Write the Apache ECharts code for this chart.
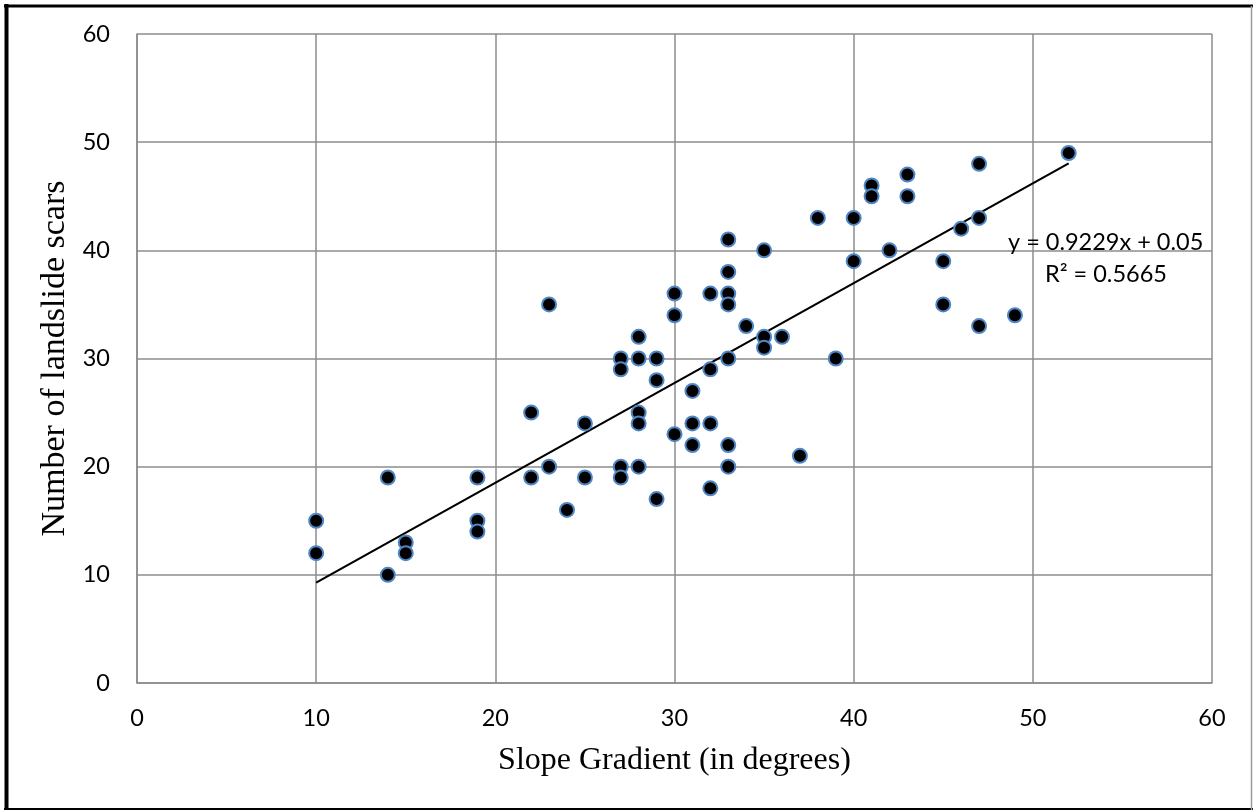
<!DOCTYPE html>
<html>
<head>
<meta charset="utf-8">
<script src="https://cdn.jsdelivr.net/npm/echarts@6/dist/echarts.min.js"></script>
<style>
html,body{margin:0;padding:0;background:#fff;}
#chart{width:1253px;height:810px;}
</style>
</head>
<body>
<div id="chart"></div>
<script>
// Slope gradient (degrees) vs number of landslide scars
const slopeDeg = [10,10,14,14,15,15,19,19,19,22,22,23,23,24,25,25,27,27,27,27,28,28,28,28,28,29,29,29,30,30,30,31,31,31,32,32,32,32,33,33,33,33,33,33,33,34,35,35,35,36,37,38,39,40,40,41,41,42,43,43,45,45,46,47,47,47,49,52];
const scars    = [15,12,19,10,13,12,19,15,14,25,19,35,20,16,24,19,30,29,20,19,32,30,25,24,20,30,28,17,36,34,23,27,24,22,36,29,24,18,41,38,36,35,30,22,20,33,40,32,31,32,21,43,30,43,39,46,45,40,47,45,39,35,42,48,43,33,34,49];
const xTicks = [0,10,20,30,40,50,60];
const yTicks = [0,10,20,30,40,50,60];
const trendSlope = 0.9229;
const trendIntercept = 0.05;
const trendLabel = ['y = 0.9229x + 0.05', 'R² = 0.5665'];
const xTitle = 'Slope Gradient (in degrees)';
const yTitle = 'Number of landslide scars';

const points = slopeDeg.map((x, i) => [x, scars[i]]);
const xMinData = Math.min(...slopeDeg), xMaxData = Math.max(...slopeDeg);
const trend = [xMinData, xMaxData].map(x => [x, trendSlope * x + trendIntercept]);

const chart = echarts.init(document.getElementById('chart'), null, {renderer: 'canvas'});
const gridColor = '#8c8c8c';
const tickFont = {fontFamily: 'Lato', fontSize: 23.5, color: '#000'};
chart.setOption({
  backgroundColor: '#fff',
  animation: false,
  grid: {left: 137, right: 41, top: 34, bottom: 127},
  xAxis: {
    type: 'value', min: xTicks[0], max: xTicks[xTicks.length - 1], interval: xTicks[1] - xTicks[0],
    name: xTitle, nameLocation: 'middle', nameGap: 62,
    nameTextStyle: {fontFamily: 'Liberation Serif', fontSize: 32, color: '#000'},
    axisLine: {show: true, lineStyle: {color: gridColor, width: 1.5}},
    axisTick: {show: false},
    axisLabel: Object.assign({margin: 23}, tickFont),
    splitLine: {show: true, lineStyle: {color: gridColor, width: 1.5}}
  },
  yAxis: {
    type: 'value', min: yTicks[0], max: yTicks[yTicks.length - 1], interval: yTicks[1] - yTicks[0],
    name: yTitle, nameLocation: 'middle', nameGap: 62,
    nameTextStyle: {fontFamily: 'Liberation Serif', fontSize: 34, color: '#000'},
    axisLine: {show: true, lineStyle: {color: gridColor, width: 1.5}},
    axisTick: {show: false},
    axisLabel: Object.assign({margin: 27}, tickFont),
    splitLine: {show: true, lineStyle: {color: gridColor, width: 1.5}}
  },
  series: [
    {
      type: 'line', data: trend, symbol: 'none', silent: true,
      lineStyle: {color: '#000', width: 2.2}, z: 3
    },
    {
      type: 'scatter', data: points, symbol: 'circle', symbolSize: 14,
      itemStyle: {color: '#000', borderColor: '#4f86c6', borderWidth: 2, opacity: 1}, z: 4
    }
  ],
  graphic: [
    {type: 'text', left: 1008, top: 230, z: 10,
     style: {text: trendLabel[0], fontFamily: 'Lato', fontSize: 23.5, fill: '#000'}},
    {type: 'text', left: 1045, top: 262, z: 10,
     style: {text: trendLabel[1], fontFamily: 'Lato', fontSize: 23.5, fill: '#000'}},
    {type: 'line', shape: {x1: 6.5, y1: 4, x2: 6.5, y2: 810}, style: {stroke: '#000', lineWidth: 4}},
    {type: 'line', shape: {x1: 4, y1: 6, x2: 1253, y2: 6}, style: {stroke: '#000', lineWidth: 3}},
    {type: 'line', shape: {x1: 4, y1: 809, x2: 1253, y2: 809}, style: {stroke: '#000', lineWidth: 2}},
    {type: 'line', shape: {x1: 1251.5, y1: 6, x2: 1251.5, y2: 810}, style: {stroke: '#9a9a9a', lineWidth: 1.5}}
  ]
});
</script>
</body>
</html>
